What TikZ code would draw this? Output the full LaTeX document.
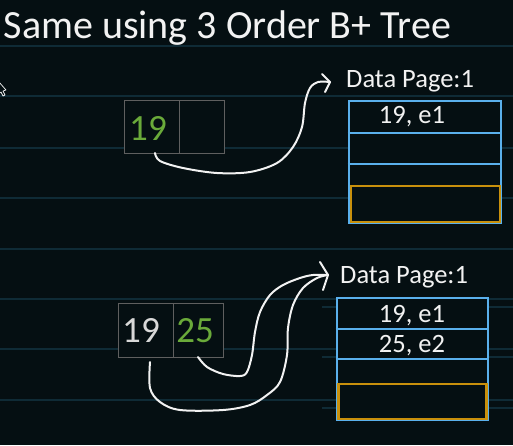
\documentclass[tikz,border=0pt]{standalone}
\usepackage{fontspec}
\setmainfont{Carlito}
\definecolor{bg}{HTML}{050F12}
\definecolor{gridc}{HTML}{0F2B36}
\definecolor{keygreen}{HTML}{6AAA3A}
\definecolor{keygray}{HTML}{5F5F5F}
\definecolor{pageblue}{HTML}{5AB0EC}
\definecolor{pageorange}{HTML}{C8900C}
\definecolor{txt}{HTML}{F2F2F2}
\definecolor{txtdim}{HTML}{D8D8D8}
\begin{document}
\begin{tikzpicture}[x=1pt,y=-1pt,
  gridline/.style={gridc, line width=1.1pt},
  keycell/.style={draw=keygray, fill=bg, line width=0.9pt, inner sep=0pt},
  keytext/.style={font=\fontsize{37}{40}\selectfont, inner sep=0pt, anchor=base},
  pagebox/.style={draw=pageblue, fill=bg, line width=2.6pt, inner sep=0pt},
  pagerow/.style={pageblue, line width=2.6pt},
  spare/.style={draw=pageorange, line width=2.8pt, inner sep=0pt},
  pagetitle/.style={txt, font=\fontsize{26.5}{28}\selectfont, inner sep=0pt, anchor=base west},
  entry/.style={txt, font=\fontsize{26.5}{28}\selectfont, inner sep=0pt, anchor=base},
  ink/.style={txt, line width=2pt, line cap=round, line join=round}
]
\fill[bg] (0,0) rectangle (513,445);
\useasboundingbox (0,0) rectangle (513,445);
% background ruled lines
\foreach \yy in {46,96,148,198,249,299,349,400}
  \draw[gridline] (0,\yy) -- (513,\yy);
\foreach \yy in {307,357,408}
  \draw[gridline] (322,\yy) -- (513,\yy);
% cursor
\draw[txt, line width=0.7pt, line join=round] (-1,82) -- (6,90) -- (3,91) -- (5,95) -- (3,96) -- (1,92) -- (-1,94);
% title
\node[txt, font=\fontsize{40}{43}\selectfont, inner sep=0pt, anchor=base west] (title) at (3.5,38) {Same using 3 Order B+ Tree};

% ---------- top: one key ----------
\node[keycell, minimum width=55pt, minimum height=53pt] (k1a) at (151.5,126.5) {};
\node[keycell, minimum width=45pt, minimum height=53pt] (k1b) at (201.5,126.5) {};
\node[keytext, keygreen] (k1t) at (148,140) {19};

\node[pagetitle] (p1t) at (346,87) {Data Page:1};
\node[pagebox, minimum width=152pt, minimum height=122pt] (p1) at (425,162) {};
\draw[pagerow] (p1.north west |- 0,133) -- (p1.north east |- 0,133);
\draw[pagerow] (p1.north west |- 0,164) -- (p1.north east |- 0,164);
\node[spare, minimum width=149pt, minimum height=36pt] (p1o) at (425.5,204) {};
\node[entry] (p1e1) at (412,123) {19, e1};

\coordinate (a1s) at (155,153);
\coordinate (a1e) at (330,82);
\draw[ink] plot[smooth, tension=0.55] coordinates {(a1s) (160,161) (183,168) (217,173) (250,172) (277,163) (293,147) (302,127) (305,103) (310,88) (318,82) (a1e)};
\draw[ink] (322,74) -- (a1e) -- (325,92);

% ---------- bottom: two keys ----------
\node[keycell, minimum width=55pt, minimum height=54pt] (k2a) at (145.5,330) {};
\node[keycell, minimum width=50pt, minimum height=54pt] (k2b) at (198,330) {};
\node[keytext, txtdim] (k2t1) at (141,342) {19};
\node[keytext, keygreen] (k2t2) at (195,342) {25};

\node[pagetitle] (p2t) at (340,283) {Data Page:1};
\node[pagebox, minimum width=151pt, minimum height=122pt] (p2) at (412.5,359) {};
\draw[pagerow] (p2.north west |- 0,329) -- (p2.north east |- 0,329);
\draw[pagerow] (p2.north west |- 0,359) -- (p2.north east |- 0,359);
\node[spare, minimum width=148pt, minimum height=35pt] (p2o) at (412.5,401.5) {};
\node[entry] (p2e1) at (412,322) {19, e1};
\node[entry] (p2e2) at (412,352) {25, e2};

\coordinate (b1s) at (150,362);
\coordinate (b2s) at (198,357);
\coordinate (b2e) at (328,275);
\draw[ink] plot[smooth, tension=0.55] coordinates {(b1s) (150,388) (160,402) (180,410) (223,410) (250,405) (267,395) (280,382) (287,355) (288,328) (293,305) (303,288) (317,278) (b2e)};
\draw[ink] plot[smooth, tension=0.55] coordinates {(b2s) (207,367) (223,374) (240,376) (247,372) (252,355) (255,332) (260,312) (270,295) (283,285) (300,278) (313,275) (b2e)};
\draw[ink] (320,262) -- (b2e) -- (323,290);
\end{tikzpicture}
\end{document}
